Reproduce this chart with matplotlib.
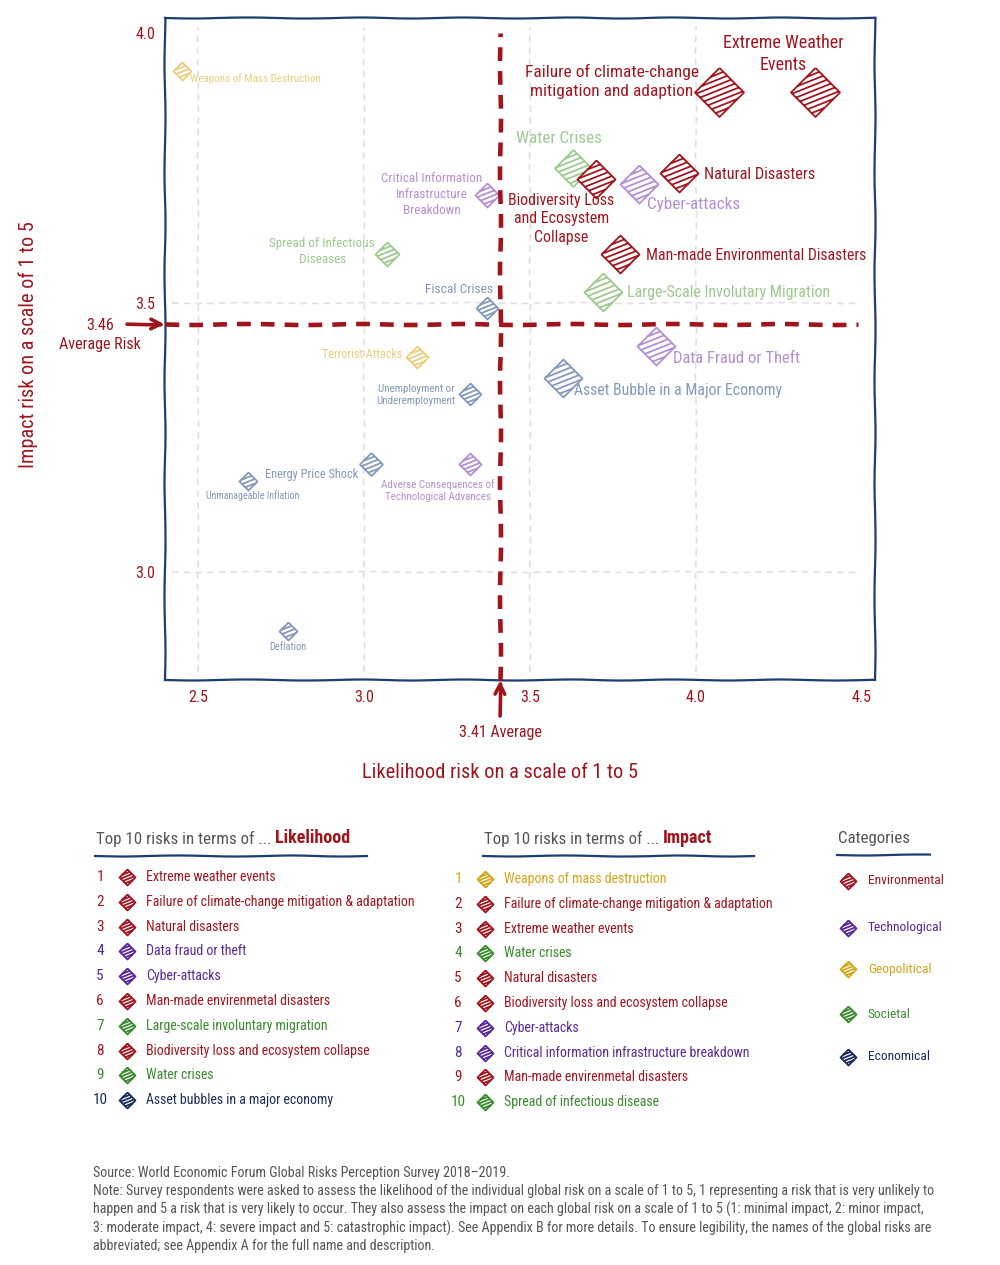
import numpy as np
import matplotlib
matplotlib.use('Agg')
import matplotlib.pyplot as plt
from matplotlib.path import Path
from matplotlib import font_manager

# --- data -------------------------------------------------------------
risks = ['Extreme Weather\nEvents', 'Failure of climate-change\nmitigation and adaption',
         'Natural Disasters', 'Biodiversity Loss\nand Ecosystem\nCollapse',
         'Man-made Environmental Disasters', 'Water Crises', 'Cyber-attacks',
         'Large-Scale Involutary Migration', 'Data Fraud or Theft',
         'Asset Bubble in a Major Economy', 'Critical Information\nInfrastructure\nBreakdown',
         'Spread of Infectious\nDiseases', 'Fiscal Crises', 'Weapons of Mass Destruction',
         'Terrorist Attacks', 'Unemployment or\nUnderemployment', 'Energy Price Shock',
         'Adverse Consequences of\nTechnological Advances', 'Unmanageable Inflation', 'Deflation']
category = ['env', 'env', 'env', 'env', 'env', 'soc', 'tech', 'soc', 'tech', 'eco',
            'tech', 'soc', 'eco', 'geo', 'geo', 'eco', 'eco', 'tech', 'eco', 'eco']
likelihood = [4.36, 4.07, 3.95, 3.70, 3.77, 3.63, 3.83, 3.72, 3.88, 3.60,
              3.37, 3.07, 3.37, 2.45, 3.16, 3.32, 3.02, 3.32, 2.65, 2.77]
impact = [3.89, 3.89, 3.74, 3.73, 3.59, 3.75, 3.72, 3.52, 3.42, 3.36,
          3.70, 3.59, 3.49, 3.93, 3.40, 3.33, 3.20, 3.20, 3.17, 2.89]
avg_likelihood = 3.41
avg_impact = 3.46

x_ticks = [2.5, 3.0, 3.5, 4.0, 4.5]
y_ticks = [3.0, 3.5, 4.0]

lik_names = ['Extreme weather events', 'Failure of climate-change mitigation & adaptation',
             'Natural disasters', 'Data fraud or theft', 'Cyber-attacks',
             'Man-made envirenmetal disasters', 'Large-scale involuntary migration',
             'Biodiversity loss and ecosystem collapse', 'Water crises',
             'Asset bubbles in a major economy']
lik_cats = ['env', 'env', 'env', 'tech', 'tech', 'env', 'soc', 'env', 'soc', 'eco']
imp_names = ['Weapons of mass destruction', 'Failure of climate-change mitigation & adaptation',
             'Extreme weather events', 'Water crises', 'Natural disasters',
             'Biodiversity loss and ecosystem collapse', 'Cyber-attacks',
             'Critical information infrastructure breakdown', 'Man-made envirenmetal disasters',
             'Spread of infectious disease']
imp_cats = ['geo', 'env', 'env', 'soc', 'env', 'env', 'tech', 'tech', 'env', 'soc']
cat_keys = ['env', 'tech', 'geo', 'soc', 'eco']
cat_names = ['Environmental', 'Technological', 'Geopolitical', 'Societal', 'Economical']

note_lines = [
    'Source: World Economic Forum Global Risks Perception Survey 2018\u20132019.',
    'Note: Survey respondents were asked to assess the likelihood of the individual global risk on a scale of 1 to 5, 1 representing a risk that is very unlikely to',
    'happen and 5 a risk that is very likely to occur. They also assess the impact on each global risk on a scale of 1 to 5 (1: minimal impact, 2: minor impact,',
    '3: moderate impact, 4: severe impact and 5: catastrophic impact). See Appendix B for more details. To ensure legibility, the names of the global risks are',
    'abbreviated; see Appendix A for the full name and description.',
]

# --- styles -----------------------------------------------------------
RED = '#a0141e'
NAVY = '#1f3d70'
GRAY = '#555555'
strong = {'env': '#a3161f', 'tech': '#5a2a9a', 'geo': '#d6a619', 'soc': '#3a8c2e', 'eco': '#1b2f5e'}
faded = {'env': '#a3161f', 'tech': '#b48fd4', 'geo': '#e8cf7d', 'soc': '#9dca8f', 'eco': '#8499bb'}

# marker width in px, label font size and label offset (dx, dy px, ha)
marker_px = [49, 49, 38, 38, 38, 37, 38, 38, 38, 38, 24, 24, 22, 18, 22, 22, 23, 22, 18, 18]
label_pt = [13, 12.5, 11.8, 11.4, 11.3, 12.3, 12.4, 11.5, 12, 11.3, 9.5, 9.5, 9.7, 7.9, 8.7, 7.9, 8.9, 7.9, 7.2, 7.5]
label_pos = [(-32, 38, 'center'), (-20, 11, 'right'), (25, -1, 'left'), (-35, -40, 'center'),
             (26, -1, 'left'), (-14, 29, 'center'), (8, -20, 'left'), (24, -1, 'left'),
             (17, -13, 'left'), (11, -12, 'left'), (-55, 0, 'center'), (-65, 3, 'center'),
             (-28, 19, 'center'), (8, -8, 'left'), (-15, 2, 'right'), (-54, -1, 'center'),
             (-12, -10, 'right'), (-32, -26, 'center'), (5, -15, 'center'), (0, -16, 'center')]

# pick the narrowest face that is installed (the original uses a thin handwriting font)
fonts = font_manager.fontManager.ttflist
names = {f.name for f in fonts}
FONT, STRETCH = None, 'normal'
for n in ['Liberation Sans Narrow', 'Roboto Condensed', 'Open Sans Condensed', 'Noto Sans Condensed',
          'DejaVu Sans Condensed', 'Arial Narrow']:
    if n in names:
        FONT = n
        break
if FONT is None:
    for n in ['Roboto', 'Noto Sans', 'Open Sans', 'DejaVu Sans', 'Lato', 'Inter']:
        if any(f.name == n and str(f.stretch) in ('condensed', 'semi-condensed', 'extra-condensed')
               for f in fonts):
            FONT, STRETCH = n, 'condensed'
            break
if FONT is None:
    FONT = 'Roboto' if 'Roboto' in names else 'DejaVu Sans'
NARROW = FONT != 'Roboto' and FONT != 'DejaVu Sans' or STRETCH == 'condensed'
K = 1.0 if NARROW else 0.88  # shrink when only a normal-width face exists

plt.rcParams['font.family'] = [FONT, 'DejaVu Sans']
plt.rcParams['font.stretch'] = STRETCH
plt.rcParams['path.sketch'] = (0.5, 120, 2)


def diamond_marker(n_stripes, slope=0.4):
    verts = [(0, 1), (1, 0), (0, -1), (-1, 0), (0, 1)]
    codes = [Path.MOVETO] + [Path.LINETO] * 4
    xs = np.linspace(-1, 1, 4001)
    for c in np.linspace(-1, 1, n_stripes + 2)[1:-1]:
        inside = np.abs(xs) + np.abs(slope * xs + c) <= 1
        x0, x1 = xs[inside][0], xs[inside][-1]
        verts += [(x0, slope * x0 + c), (x1, slope * x1 + c)]
        codes += [Path.MOVETO, Path.LINETO]
    return Path(verts, codes)


def px_to_area(w):
    return (w * 72 / 100.0) ** 2


fig = plt.figure(figsize=(10, 12.65), dpi=100)
fig.patch.set_facecolor('white')
ax = fig.add_axes([0.165, 1 - 680 / 1265, 0.71, 662 / 1265])
ax.set_xlim(2.4, 4.54)
ax.set_ylim(2.80, 4.028)

for sp in ax.spines.values():
    sp.set_color(NAVY)
    sp.set_linewidth(1.6)

ax.set_xticks(x_ticks)
ax.set_xticklabels(['%.1f' % t for t in x_ticks])
ax.set_yticks(y_ticks)
ax.set_yticklabels(['%.1f' % t for t in y_ticks])
ax.tick_params(length=0, labelcolor=RED, labelsize=11.5)
ax.tick_params(axis='x', pad=7)
ax.tick_params(axis='y', pad=7)

# grid
ax.vlines(x_ticks[:-1], 2.815, 4.012, colors='#e0e0e0', linestyles=(0, (4, 3)), lw=1.2, zorder=0)
ax.hlines([3.0, 3.5], 2.42, 4.49, colors='#e0e0e0', linestyles=(0, (4, 3)), lw=1.2, zorder=0)

# points
for i in range(len(risks)):
    col = faded[category[i]]
    n = max(3, int(round(marker_px[i] / 6.0)))
    ax.scatter(likelihood[i], impact[i], s=px_to_area(marker_px[i]), marker=diamond_marker(n),
               facecolors='white', edgecolors=col, linewidths=1.3,
               zorder=3 if category[i] == 'env' else 2)
    dx, dy, ha = label_pos[i]
    ax.annotate(risks[i], (likelihood[i], impact[i]), xytext=(dx, dy), textcoords='offset pixels',
                ha=ha, va='center', multialignment='center', fontsize=label_pt[i] * K,
                color=col, zorder=4, linespacing=1.3)

# averages
ax.plot([avg_likelihood, avg_likelihood], [2.80, 4.0], color=RED, lw=3.3,
        linestyle=(0, (3, 2.2)), zorder=5, clip_on=False)
ax.plot([2.4, 4.49], [avg_impact, avg_impact], color=RED, lw=3.3,
        linestyle=(0, (3, 2.2)), zorder=5, clip_on=False)
ax.annotate('', xy=(2.4, avg_impact), xytext=(-38, 0), textcoords='offset pixels',
            arrowprops=dict(arrowstyle='->', color=RED, lw=2.6, mutation_scale=18,
                            shrinkA=0, shrinkB=0), annotation_clip=False)
ax.annotate('', xy=(avg_likelihood, 2.80), xytext=(0, -36), textcoords='offset pixels',
            arrowprops=dict(arrowstyle='->', color=RED, lw=2.6, mutation_scale=18,
                            shrinkA=0, shrinkB=0), annotation_clip=False)
ax.annotate('%.2f\nAverage Risk' % avg_impact, (2.4, avg_impact), xytext=(-65, -11),
            textcoords='offset pixels', ha='center', va='center', multialignment='center',
            fontsize=11.5, color=RED, annotation_clip=False, linespacing=1.35)
ax.annotate('%.2f Average' % avg_likelihood, (avg_likelihood, 2.80), xytext=(0, -53),
            textcoords='offset pixels', ha='center', va='center',
            fontsize=11.5, color=RED, annotation_clip=False)

fig.text(0.5, 1 - 772 / 1265, 'Likelihood risk on a scale of 1 to 5', ha='center', va='center',
         fontsize=14.7, color=RED)
fig.text(0.028, 1 - 345 / 1265, 'Impact risk on a scale of 1 to 5', ha='center', va='center',
         rotation=90, fontsize=14.6, color=RED)

# --- legends in pixel space ------------------------------------------
lg = fig.add_axes([0, 0, 1, 1])
lg.set_xlim(0, 1000)
lg.set_ylim(1265, 0)
lg.axis('off')
lg.patch.set_alpha(0)


def heading(x, y, first, second, x1):
    t = lg.text(x, y, first, ha='left', va='baseline', fontsize=12.2 * K, color=GRAY)
    if second:
        lg.annotate(second, xy=(1, 0), xycoords=t, va='bottom', ha='left',
                    fontsize=13 * K, color=RED, fontweight='bold')
    lg.plot([x - 1, x1], [y + 12, y + 12], color=NAVY, lw=1.6)


small_marker = diamond_marker(4)
heading(96, 844, 'Top 10 risks in terms of ... ', 'Likelihood', 367)
heading(484, 844, 'Top 10 risks in terms of ... ', 'Impact', 754)
heading(838, 843, 'Categories', None, 930)

for col_x, y0, nms, cats in [(100, 877, lik_names, lik_cats), (458, 879, imp_names, imp_cats)]:
    for k, (nm, ct) in enumerate(zip(nms, cats)):
        y = y0 + 24.8 * k
        c = strong[ct]
        lg.text(col_x, y, str(k + 1), ha='center', va='center', fontsize=11, color=c)
        lg.scatter(col_x + 27, y, s=px_to_area(16), marker=small_marker, facecolors='white',
                   edgecolors=c, linewidths=1.3)
        lg.text(col_x + 46, y, nm, ha='left', va='center', fontsize=10 * K, color=c)

for k, (ck, cn) in enumerate(zip(cat_keys, cat_names)):
    y = [881, 928, 969, 1014, 1057][k]
    lg.scatter(848, y, s=px_to_area(16), marker=small_marker, facecolors='white',
               edgecolors=strong[ck], linewidths=1.3)
    lg.text(868, y, cn, ha='left', va='center', fontsize=9.7 * K, color=strong[ck])

for k, line in enumerate(note_lines):
    lg.text(93, 1173 + 18.3 * k, line, ha='left', va='center', fontsize=10.1 * K, color=GRAY)

fig.savefig('out.png', dpi=100, facecolor='white')
